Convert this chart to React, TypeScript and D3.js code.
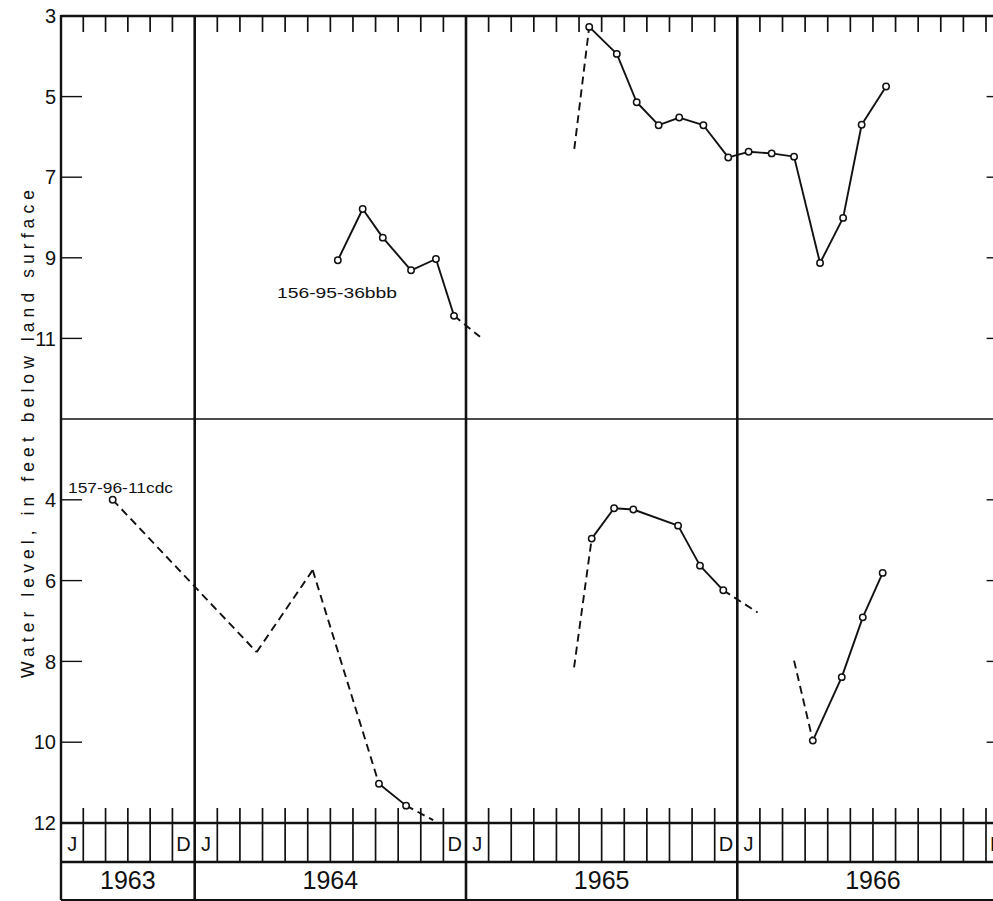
import React from 'react';
import * as d3 from 'd3';

const W = 993;
const H = 901;

// Time is measured in months since January 1963
const yearLabels = ['1963', '1964', '1965', '1966'];
const yearStart = [6, 12, 24, 36];
const yearEnd = [12, 24, 36, 48];

const topTickValues = [5, 7, 9, 11];
const bottomTickValues = [4, 6, 8, 10];
const topAxisLabels = [3, 5, 7, 9, 11];
const bottomAxisLabels = [4, 6, 8, 10, 12];

// Well 156-95-36bbb (upper panel); null splits runs
const wellAName = '156-95-36bbb';
const wellAMonth = [18.33, 19.43, 20.32, 21.57, 22.67, 23.47, 24.62, null, 28.79, 29.45, 30.67, 31.55, 32.52, 33.43, 34.5, 35.6, 36.5, 37.52, 38.51, 39.66, 40.68, 41.5, 42.58];
const wellALevel = [9.06, 7.79, 8.5, 9.31, 9.03, 10.44, 10.96, null, 6.3, 3.27, 3.94, 5.14, 5.71, 5.52, 5.71, 6.51, 6.37, 6.41, 6.49, 9.13, 8.01, 5.7, 4.75];
const wellAMeasured = [1, 1, 1, 1, 1, 1, 0, 0, 0, 1, 1, 1, 1, 1, 1, 1, 1, 1, 1, 1, 1, 1, 1];

// Well 157-96-11cdc (lower panel)
const wellBName = '157-96-11cdc';
const wellBMonth = [8.32, 14.74, 17.22, 20.15, 21.35, 22.55, null, 28.78, 29.56, 30.55, 31.4, 33.38, 34.35, 35.38, 36.9, null, 38.51, 39.34, 40.62, 41.55, 42.43];
const wellBLevel = [4.0, 7.77, 5.74, 11.03, 11.57, 11.93, null, 8.15, 4.96, 4.21, 4.24, 4.64, 5.63, 6.24, 6.79, null, 7.98, 9.96, 8.39, 6.91, 5.81];
const wellBMeasured = [1, 0, 0, 1, 1, 0, 0, 0, 1, 1, 1, 1, 1, 1, 0, 0, 0, 1, 1, 1, 1];

const FONT = '"Liberation Sans", Arial, sans-serif';
const INK = '#111';

const x = d3.scaleLinear().domain([6, 12, 36]).range([61, 194.7, 737.3]);
const yTop = d3.scaleLinear().domain([3, 13]).range([16, 419]);
const yBot = d3.scaleLinear().domain([2, 12]).range([419, 823]);

const AX_LEFT = x(6);
const AX_RIGHT = x(48);
const TOP = yTop(3);
const MID = yTop(13);
const BASE = yBot(12);
const MONTH_ROW = 862;
const BOTTOM = 900;

function WellSeries({ months, levels, measured, y }: any) {
  const line = d3.line<[number, number]>().x(d => x(d[0])).y(d => y(d[1]));
  const segs: any[] = [];
  for (let i = 0; i < months.length - 1; i++) {
    if (months[i] == null || months[i + 1] == null) continue;
    const solid = measured[i] && measured[i + 1];
    segs.push(
      <path key={'s' + i}
        d={line([[months[i], levels[i]], [months[i + 1], levels[i + 1]]]) || ''}
        fill="none" stroke={INK} strokeWidth={1.9}
        strokeDasharray={solid ? undefined : '8,5'} />
    );
  }
  const pts = months.map((m: any, i: number) => (m != null && measured[i]) ? (
    <circle key={'c' + i} cx={x(m)} cy={y(levels[i])} r={3.2} fill="#fff" stroke={INK} strokeWidth={1.5} />
  ) : null);
  return <g>{segs}{pts}</g>;
}

export default function App() {
  const monthLines = d3.range(7, 48).filter(m => m % 12 !== 0);
  const yearLines = [12, 24, 36];
  return (
    <svg width={W} height={H} viewBox={`0 0 ${W} ${H}`}
      style={{ position: 'absolute', left: 0, top: 0, background: '#fff', overflow: 'hidden' }}
      fontFamily={FONT}>
      <rect x={0} y={0} width={W} height={H} fill="#fff" />
      {/* frame */}
      <line x1={AX_LEFT} x2={AX_RIGHT} y1={TOP} y2={TOP} stroke={INK} strokeWidth={2.4} />
      <line x1={AX_LEFT} x2={AX_RIGHT} y1={MID} y2={MID} stroke={INK} strokeWidth={1.6} />
      <line x1={AX_LEFT} x2={AX_RIGHT} y1={BASE} y2={BASE} stroke={INK} strokeWidth={2.4} />
      <line x1={AX_LEFT} x2={AX_RIGHT} y1={MONTH_ROW} y2={MONTH_ROW} stroke={INK} strokeWidth={2.6} />
      <line x1={AX_LEFT} x2={AX_RIGHT} y1={BOTTOM} y2={BOTTOM} stroke={INK} strokeWidth={2} />
      <line x1={AX_LEFT} x2={AX_LEFT} y1={TOP - 1} y2={BOTTOM} stroke={INK} strokeWidth={2.4} />
      <line x1={AX_RIGHT} x2={AX_RIGHT} y1={TOP - 1} y2={BOTTOM} stroke={INK} strokeWidth={2.4} />
      {yearLines.map(m => (
        <line key={'y' + m} x1={x(m)} x2={x(m)} y1={TOP - 1} y2={BOTTOM} stroke={INK} strokeWidth={2.6} />
      ))}
      {monthLines.map(m => (
        <g key={'m' + m}>
          <line x1={x(m)} x2={x(m)} y1={TOP} y2={TOP + 16} stroke={INK} strokeWidth={1.7} />
          <line x1={x(m)} x2={x(m)} y1={BASE - 15} y2={MONTH_ROW} stroke={INK} strokeWidth={1.7} />
        </g>
      ))}
      {/* y ticks */}
      {topTickValues.map(v => (
        <g key={'tt' + v}>
          <line x1={AX_LEFT} x2={AX_LEFT + 21} y1={yTop(v)} y2={yTop(v)} stroke={INK} strokeWidth={1.4} />
          <line x1={AX_RIGHT - 22} x2={AX_RIGHT} y1={yTop(v)} y2={yTop(v)} stroke={INK} strokeWidth={1.4} />
        </g>
      ))}
      {bottomTickValues.map(v => (
        <g key={'bt' + v}>
          <line x1={AX_LEFT} x2={AX_LEFT + 21} y1={yBot(v)} y2={yBot(v)} stroke={INK} strokeWidth={1.4} />
          <line x1={AX_RIGHT - 22} x2={AX_RIGHT} y1={yBot(v)} y2={yBot(v)} stroke={INK} strokeWidth={1.4} />
        </g>
      ))}
      {topAxisLabels.map(v => (
        <text key={'tl' + v} x={56} y={yTop(v)} dy="0.36em" textAnchor="end" fontSize={20} fill={INK}>{v}</text>
      ))}
      {bottomAxisLabels.map(v => (
        <text key={'bl' + v} x={56} y={yBot(v)} dy="0.36em" textAnchor="end" fontSize={20} fill={INK}>{v}</text>
      ))}
      {/* y title */}
      <text transform="translate(34,434) rotate(-90)" textAnchor="middle" fontSize={17.5} fill={INK}
        textLength={488} lengthAdjust="spacing">Water level, in feet below land surface</text>
      {/* month letters and years */}
      {yearLabels.map((lab, i) => (
        <g key={'yr' + lab}>
          <text x={x(yearStart[i] + 0.5)} y={851} textAnchor="middle" fontSize={20} fill={INK}>J</text>
          <text x={x(yearEnd[i] - 0.5)} y={851} textAnchor="middle" fontSize={20} fill={INK}>D</text>
          <text x={(x(yearStart[i]) + x(yearEnd[i])) / 2} y={889} textAnchor="middle" fontSize={25} fill={INK}>{lab}</text>
        </g>
      ))}
      {/* series */}
      <WellSeries months={wellAMonth} levels={wellALevel} measured={wellAMeasured} y={yTop} />
      <WellSeries months={wellBMonth} levels={wellBLevel} measured={wellBMeasured} y={yBot} />
      <text x={277} y={298} fontSize={15} fill={INK} textLength={120} lengthAdjust="spacingAndGlyphs">{wellAName}</text>
      <text x={68} y={493} fontSize={15} fill={INK} textLength={105} lengthAdjust="spacingAndGlyphs">{wellBName}</text>
    </svg>
  );
}
